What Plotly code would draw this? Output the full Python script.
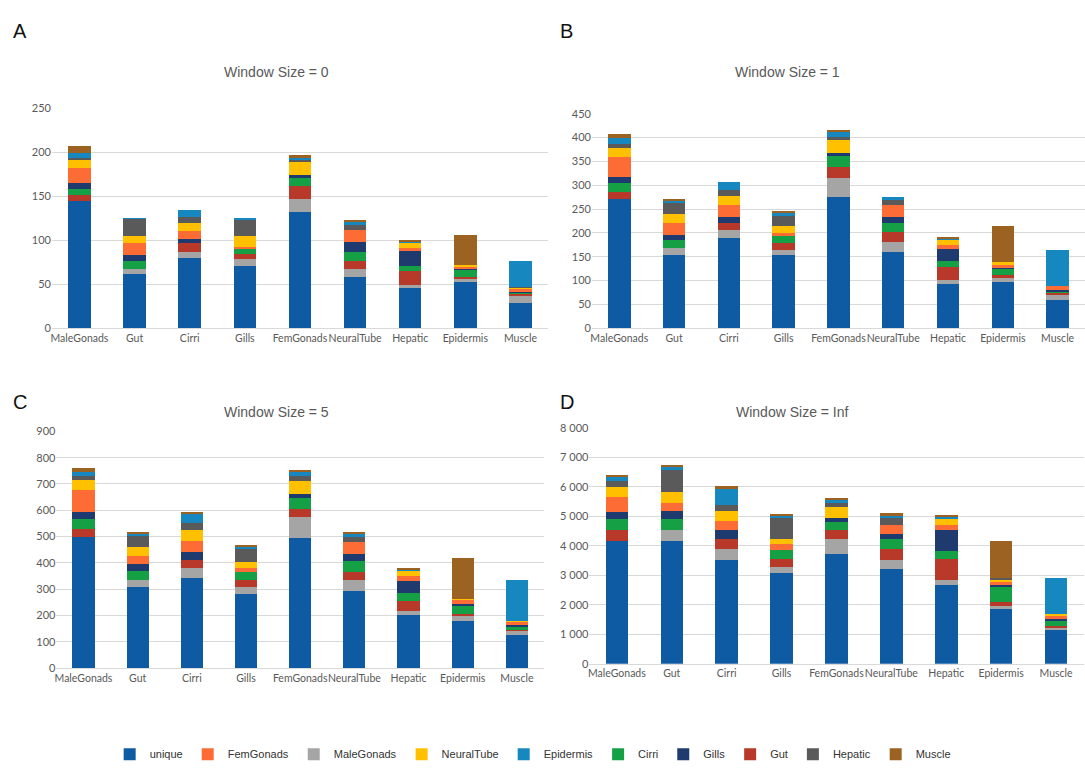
import plotly.graph_objects as go

W, H = 1085, 770

categories = ["MaleGonads", "Gut", "Cirri", "Gills", "FemGonads",
              "NeuralTube", "Hepatic", "Epidermis", "Muscle"]

# stacking order (bottom -> top)
series_names = ["unique", "MaleGonads", "Gut", "Cirri", "Gills",
                "FemGonads", "NeuralTube", "Hepatic", "Epidermis", "Muscle"]
# legend order
legend_order = ["unique", "FemGonads", "MaleGonads", "NeuralTube", "Epidermis",
                "Cirri", "Gills", "Gut", "Hepatic", "Muscle"]
series_colors = ["#0e5ba3", "#a5a5a5", "#b8392a", "#16a045", "#1f3a6e",
                 "#fd6c35", "#ffc000", "#5a5a5a", "#1787bf", "#9b6221"]

# ---- Window Size = 0 ----
w0_unique     = [145, 62, 80, 71, 132, 59, 46, 53, 29]
w0_malegonads = [0, 5, 7, 8, 15, 9, 3, 3, 8]
w0_gut        = [6, 0, 10, 6, 15, 9, 16, 3, 2]
w0_cirri      = [7, 10, 0, 5, 9, 10, 6, 8, 1]
w0_gills      = [7, 6, 5, 0, 3, 11, 17, 1, 1]
w0_femgonads  = [17, 14, 9, 3, 0, 14, 3, 2, 4]
w0_neuraltube = [10, 8, 9, 12, 15, 0, 6, 2, 1]
w0_hepatic    = [2, 19, 6, 18, 3, 5, 0, 0, 1]
w0_epidermis  = [5, 1, 8, 1, 2, 4, 2, 0, 30]
w0_muscle     = [8, 0, 0, 0, 3, 1, 1, 34, 0]

# ---- Window Size = 1 ----
w1_unique     = [270, 153, 189, 153, 276, 159, 93, 96, 60]
w1_malegonads = [0, 15, 17, 12, 39, 21, 9, 10, 12]
w1_gut        = [15, 0, 14, 14, 24, 21, 27, 5, 4]
w1_cirri      = [19, 16, 0, 14, 22, 20, 12, 15, 2]
w1_gills      = [14, 12, 14, 0, 7, 13, 26, 3, 2]
w1_femgonads  = [41, 24, 24, 7, 0, 25, 8, 4, 8]
w1_neuraltube = [19, 19, 19, 14, 27, 0, 11, 5, 0]
w1_hepatic    = [8, 26, 13, 23, 7, 10, 0, 0, 0]
w1_epidermis  = [13, 4, 17, 4, 9, 6, 2, 0, 77]
w1_muscle     = [8, 2, 0, 5, 5, 0, 3, 77, 0]

# ---- Window Size = 5 ----
w5_unique     = [498, 308, 343, 283, 493, 292, 200, 180, 125]
w5_malegonads = [0, 27, 37, 25, 81, 41, 15, 16, 15]
w5_gut        = [32, 0, 31, 25, 31, 31, 41, 9, 6]
w5_cirri      = [37, 35, 0, 31, 40, 44, 31, 32, 12]
w5_gills      = [25, 25, 31, 0, 18, 25, 42, 6, 4]
w5_femgonads  = [84, 31, 40, 15, 0, 47, 19, 15, 15]
w5_neuraltube = [41, 34, 41, 26, 47, 0, 20, 3, 2]
w5_hepatic    = [12, 41, 27, 49, 20, 18, 0, 0, 0]
w5_epidermis  = [18, 10, 35, 7, 15, 13, 6, 0, 154]
w5_muscle     = [12, 5, 9, 4, 10, 4, 5, 159, 0]

# ---- Window Size = Inf ----
winf_unique     = [4160, 4160, 3530, 3070, 3720, 3220, 2670, 1855, 1140]
winf_malegonads = [0, 390, 355, 220, 505, 280, 165, 110, 75]
winf_gut        = [390, 0, 340, 275, 300, 385, 730, 130, 75]
winf_cirri      = [340, 365, 0, 300, 275, 340, 245, 520, 145]
winf_gills      = [240, 275, 320, 0, 145, 190, 715, 65, 75]
winf_femgonads  = [530, 275, 310, 190, 0, 300, 165, 110, 120]
winf_neuraltube = [320, 365, 330, 165, 355, 0, 220, 55, 55]
winf_hepatic    = [200, 740, 200, 720, 165, 220, 0, 75, 0]
winf_epidermis  = [145, 110, 540, 110, 110, 110, 90, 0, 1235]
winf_muscle     = [75, 55, 110, 35, 55, 55, 55, 1240, 0]

panel_titles = ["Window Size = 0", "Window Size = 1", "Window Size = 5", "Window Size = Inf"]
panel_letters = ["A", "B", "C", "D"]
y_max = [250, 450, 900, 8000]
y_step = [50, 50, 100, 1000]

panels = [
    [w0_unique, w0_malegonads, w0_gut, w0_cirri, w0_gills, w0_femgonads,
     w0_neuraltube, w0_hepatic, w0_epidermis, w0_muscle],
    [w1_unique, w1_malegonads, w1_gut, w1_cirri, w1_gills, w1_femgonads,
     w1_neuraltube, w1_hepatic, w1_epidermis, w1_muscle],
    [w5_unique, w5_malegonads, w5_gut, w5_cirri, w5_gills, w5_femgonads,
     w5_neuraltube, w5_hepatic, w5_epidermis, w5_muscle],
    [winf_unique, winf_malegonads, winf_gut, winf_cirri, winf_gills, winf_femgonads,
     winf_neuraltube, winf_hepatic, winf_epidermis, winf_muscle],
]

# layout geometry in pixels: (x0, x1, ytop, ybottom)
boxes = [(50, 547, 103, 327), (591, 1085, 108.5, 326.7),
         (54.5, 543, 431.7, 672.3), (588.5, 1083.5, 428, 668)]
title_pos = [(275, 66), (787, 66), (275, 412), (792, 412)]
letter_pos = [(18, 24), (566, 24), (18, 402), (566, 402)]

fig = go.Figure()
for p, data in enumerate(panels):
    ax = "" if p == 0 else str(p + 1)
    for s, name in enumerate(series_names):
        fig.add_trace(go.Bar(
            x=categories, y=data[s], name=name,
            marker=dict(color=series_colors[s], line=dict(width=0)),
            xaxis="x" + ax, yaxis="y" + ax,
            legendgroup=name, showlegend=(p == 0),
            legendrank=legend_order.index(name) + 1,
        ))

TICK_FONT = dict(family="Lato, Open Sans, sans-serif", size=11, color="#595959")
XTICK_FONT = dict(family="Lato, Open Sans, sans-serif", size=10.5, color="#595959")
layout = dict(
    width=W, height=H,
    margin=dict(l=0, r=0, t=0, b=0),
    paper_bgcolor="white", plot_bgcolor="white",
    barmode="stack", bargap=0.59,
    separators=". ",
    showlegend=True,
    legend=dict(orientation="h", x=0.49, xanchor="center", y=1 - 760 / H, yanchor="middle",
                font=dict(family="Liberation Sans, Arial, sans-serif", size=11, color="#333333"),
                itemwidth=30, traceorder="normal", bgcolor="rgba(0,0,0,0)"),
    annotations=[],
)
for p in range(4):
    ax = "" if p == 0 else str(p + 1)
    x0, x1, yt, yb = boxes[p]
    layout["xaxis" + ax] = dict(
        domain=[x0 / W, min(x1 / W, 1.0)], anchor="y" + ax,
        showline=True, linecolor="#d9d9d9", linewidth=1,
        ticks="", tickangle=0, tickfont=XTICK_FONT, showgrid=False, fixedrange=True,
    )
    layout["yaxis" + ax] = dict(
        domain=[1 - yb / H, 1 - yt / H], anchor="x" + ax,
        range=[0, y_max[p]], dtick=y_step[p], tick0=0,
        showgrid=True, gridcolor="#d9d9d9", gridwidth=1,
        zeroline=False, showline=False, ticks="",
        tickfont=TICK_FONT, separatethousands=(p == 3),
        tickformat=",d" if p == 3 else "d",
    )
    tx, ty = title_pos[p]
    layout["annotations"].append(dict(
        text=panel_titles[p], x=tx / W, y=1 - ty / H, xref="paper", yref="paper",
        showarrow=False, xanchor="center", yanchor="middle",
        font=dict(family="Liberation Sans, Arial, sans-serif", size=14, color="#595959"),
    ))
    lx, ly = letter_pos[p]
    layout["annotations"].append(dict(
        text=panel_letters[p], x=lx / W, y=1 - ly / H, xref="paper", yref="paper",
        showarrow=False, xanchor="center", yanchor="middle",
        font=dict(family="Liberation Sans, Arial, sans-serif", size=20, color="#111111"),
    ))

fig.update_layout(**layout)
fig.write_html(
    "out.html",
    config={"displayModeBar": False},
    post_script="document.body.style.margin='0';document.body.style.overflow='hidden';",
)
